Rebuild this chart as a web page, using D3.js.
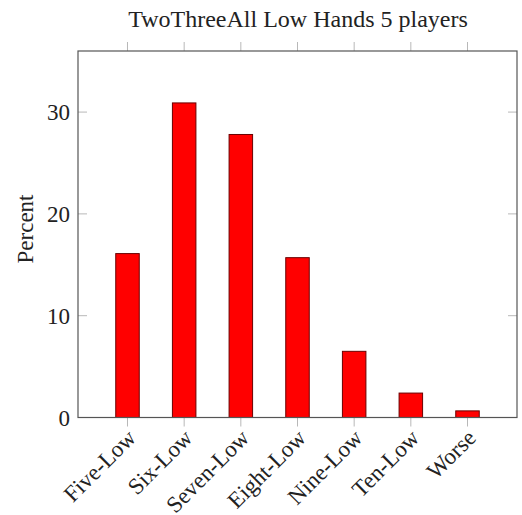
<!DOCTYPE html>
<html><head><meta charset="utf-8">
<script src="https://cdn.jsdelivr.net/npm/d3@7"></script>
<style>body{margin:0;background:#fff}svg{display:block}</style>
</head><body>
<svg id="c" width="522" height="515"></svg>
<script>
const categories = ["Five-Low","Six-Low","Seven-Low","Eight-Low","Nine-Low","Ten-Low","Worse"];
const percents = [16.1, 30.9, 27.8, 15.7, 6.5, 2.4, 0.65];
const yTicks = [0, 10, 20, 30];
const title = "TwoThreeAll Low Hands 5 players";
const yLabel = "Percent";

const svg = d3.select("#c");
const L = 78, R = 517, T = 51, B = 417.5;
const font = "Liberation Serif, DejaVu Serif, serif";
const x = d3.scalePoint().domain(categories).range([L, R]).padding(0.8735);
const y = d3.scaleLinear().domain([0, 36]).range([B, T]);
const barW = 23.5;

// ticks
const tickCol = "#b8b8b8";
const xt = svg.append("g");
categories.forEach(c => {
  xt.append("line").attr("x1", x(c)).attr("x2", x(c)).attr("y1", T - 9).attr("y2", T).attr("stroke", tickCol);
  xt.append("line").attr("x1", x(c)).attr("x2", x(c)).attr("y1", B).attr("y2", B + 9).attr("stroke", tickCol);
});
yTicks.forEach(v => {
  xt.append("line").attr("x1", L).attr("x2", L + 9).attr("y1", y(v)).attr("y2", y(v)).attr("stroke", tickCol);
  xt.append("line").attr("x1", R - 9).attr("x2", R).attr("y1", y(v)).attr("y2", y(v)).attr("stroke", tickCol);
});

// bars
svg.append("g").selectAll("rect").data(categories).join("rect")
  .attr("x", d => x(d) - barW / 2)
  .attr("y", (d, i) => y(percents[i]))
  .attr("width", barW)
  .attr("height", (d, i) => B - y(percents[i]))
  .attr("fill", "#ff0000")
  .attr("stroke", "#6a0000")
  .attr("stroke-width", 1);

// frame
svg.append("rect").attr("x", L).attr("y", T).attr("width", R - L).attr("height", B - T)
  .attr("fill", "none").attr("stroke", "#555").attr("stroke-width", 1.2);

// y tick labels
svg.append("g").selectAll("text").data(yTicks).join("text")
  .attr("x", L - 8).attr("y", d => y(d)).attr("dy", "0.35em")
  .attr("text-anchor", "end").attr("font-family", font).attr("font-size", 23).attr("fill", "#222")
  .text(d => d);

// x tick labels
svg.append("g").selectAll("text").data(categories).join("text")
  .attr("transform", d => `translate(${x(d) + 4},${B + 16}) rotate(-45)`)
  .attr("dy", "0.35em").attr("text-anchor", "end")
  .attr("font-family", font).attr("font-size", 23).attr("fill", "#222")
  .text(d => d);

// title
svg.append("text").attr("x", 298).attr("y", 26.5).attr("text-anchor", "middle")
  .attr("font-family", font).attr("font-size", 24).attr("fill", "#222").text(title);

// y label
svg.append("text").attr("transform", `translate(33,229) rotate(-90)`)
  .attr("text-anchor", "middle").attr("font-family", font).attr("font-size", 23).attr("fill", "#222")
  .text(yLabel);
</script>
</body></html>
